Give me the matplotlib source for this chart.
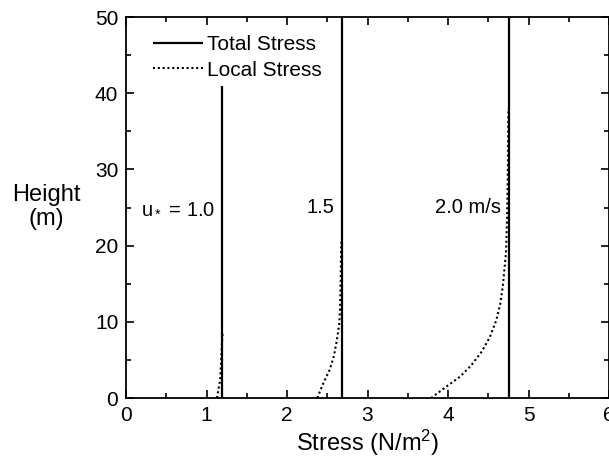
import numpy as np
import matplotlib
matplotlib.use("Agg")
import matplotlib.pyplot as plt
from matplotlib.ticker import MultipleLocator

plt.rcParams['font.family'] = ['Liberation Sans', 'DejaVu Sans']
plt.rcParams['mathtext.fontset'] = 'custom'
plt.rcParams['mathtext.rm'] = 'Liberation Sans'
plt.rcParams['mathtext.it'] = 'Liberation Sans'

# Total stress (vertical lines): stress value and top height
total_stress = [1.19, 2.68, 4.755]
total_top = [41, 52, 52]

# Local stress curves (stress, height)
local_10_x = [1.13, 1.17, 1.19, 1.20]
local_10_z = [0.0, 2.4, 6.7, 8.5]
local_15_x = [2.376, 2.45, 2.53, 2.58, 2.62, 2.65, 2.66, 2.667, 2.672, 2.675]
local_15_z = [0.0, 1.9, 3.7, 5.4, 7.6, 9.8, 12.0, 15.5, 19.4, 20.5]
local_20_x = [3.79, 3.98, 4.15, 4.29, 4.42, 4.52, 4.60, 4.65, 4.68, 4.70, 4.72, 4.735, 4.745, 4.75]
local_20_z = [0.0, 1.5, 2.8, 4.3, 6.1, 8.0, 10.2, 12.4, 14.6, 16.8, 19.0, 24.0, 31.0, 38.0]

labels = [r"u$_*$ = 1.0", "1.5", "2.0 m/s"]
label_x = [1.11, 2.59, 4.66]
label_z = [25, 25, 25]

fig = plt.figure(figsize=(6.09, 4.57), dpi=100)
ax = fig.add_axes([126/609, 59/457, 483/609, 381/457])

for i, (s, top) in enumerate(zip(total_stress, total_top)):
    ax.plot([s, s], [0, top], color='black', lw=1.6, solid_capstyle='butt',
            label='Total Stress' if i == 0 else None)

dot = (0, (1.0, 1.3))
ax.plot(local_10_x, local_10_z, color='black', lw=1.5, linestyle=dot, label='Local Stress')
ax.plot(local_15_x, local_15_z, color='black', lw=1.5, linestyle=dot)
ax.plot(local_20_x, local_20_z, color='black', lw=1.5, linestyle=dot)

for t, x, z in zip(labels, label_x, label_z):
    ax.text(x, z, t, ha='right', va='center', fontsize=14.5)

ax.set_xlim(0, 6)
ax.set_ylim(0, 50)
ax.xaxis.set_major_locator(MultipleLocator(1))
ax.xaxis.set_minor_locator(MultipleLocator(0.5))
ax.yaxis.set_major_locator(MultipleLocator(10))
ax.yaxis.set_minor_locator(MultipleLocator(5))
ax.tick_params(which='both', direction='in', top=True, right=True, width=1.2,
               labelsize=15, pad=5.5)
ax.tick_params(which='major', length=6)
ax.tick_params(which='minor', length=3.5)
ax.tick_params(axis='x', labeltop=False)
for sp in ax.spines.values():
    sp.set_linewidth(1.3)

ax.set_xlabel(r"Stress (N/m$^2$)", fontsize=17, labelpad=2)
fig.text(46/609, 1 - 207/457, "Height\n(m)", ha='center', va='center', fontsize=17,
         linespacing=1.15)

ax.legend(loc='upper left', bbox_to_anchor=(0.038, 0.975), frameon=False, fontsize=15,
          handlelength=2.4, handletextpad=0.2, labelspacing=0.32, borderaxespad=0)

fig.savefig("out.png", dpi=100)
